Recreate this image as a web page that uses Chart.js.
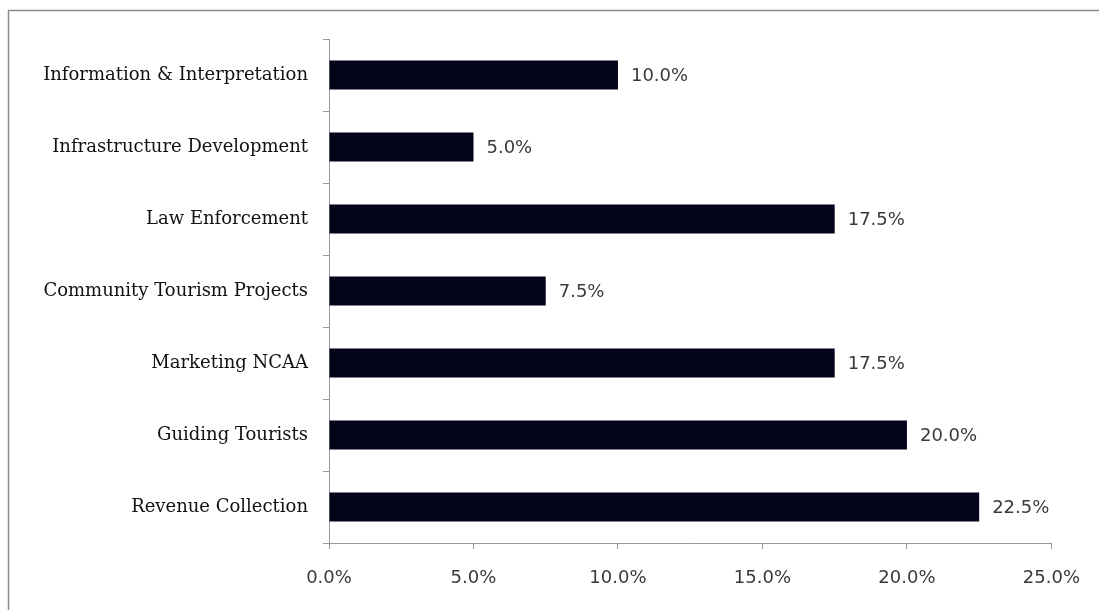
<!DOCTYPE html>
<html>
<head>
<meta charset="utf-8">
<script src="https://cdn.jsdelivr.net/npm/chart.js@4"></script>
<style>
  html, body { margin: 0; padding: 0; background: #fff; }
  #wrap { width: 1099px; height: 610px; position: relative; }
</style>
</head>
<body>
<div id="wrap"><canvas id="barChart"></canvas></div>
<script>
// data
const categories = [
  "Information & Interpretation",
  "Infrastructure Development",
  "Law Enforcement",
  "Community Tourism Projects",
  "Marketing NCAA",
  "Guiding Tourists",
  "Revenue Collection"
];
const shares = [10.0, 5.0, 17.5, 7.5, 17.5, 20.0, 22.5];
const xTicks = [0, 5, 10, 15, 20, 25];

const labelFont = { family: "'DejaVu Serif', serif", size: 18 };
const numFont = { family: "'DejaVu Sans', sans-serif", size: 18 };

// outer frame (only top + left edges visible in the original)
const framePlugin = {
  id: 'frame',
  beforeDraw(chart) {
    const c = chart.ctx;
    c.save();
    c.strokeStyle = '#8c8c8c';
    c.lineWidth = 1.5;
    c.beginPath();
    c.moveTo(8.5, chart.height);
    c.lineTo(8.5, 10.5);
    c.lineTo(chart.width, 10.5);
    c.stroke();
    c.restore();
  }
};

// value labels at the end of each bar
const valueLabels = {
  id: 'valueLabels',
  afterDatasetsDraw(chart) {
    const c = chart.ctx;
    const meta = chart.getDatasetMeta(0);
    c.save();
    c.font = numFont.size + 'px ' + numFont.family;
    c.fillStyle = '#3a3a3a';
    c.textAlign = 'left';
    c.textBaseline = 'middle';
    meta.data.forEach((bar, i) => {
      c.fillText(shares[i].toFixed(1) + '%', bar.x + 13, bar.y + 1);
    });
    c.restore();
  }
};

new Chart(document.getElementById('barChart'), {
  type: 'bar',
  data: {
    labels: categories,
    datasets: [{
      data: shares,
      backgroundColor: '#03031a',
      borderWidth: 0,
      barPercentage: 0.8,
      categoryPercentage: 0.5
    }]
  },
  options: {
    indexAxis: 'y',
    responsive: true,
    maintainAspectRatio: false,
    animation: false,
    layout: { padding: { top: 39, right: 47, bottom: 0, left: 0 } },
    plugins: {
      legend: { display: false },
      tooltip: { enabled: false }
    },
    scales: {
      x: {
        min: 0,
        max: 25,
        afterBuildTicks(axis) {
          axis.ticks = xTicks.map(v => ({ value: v }));
        },
        afterFit(axis) { axis.height = 67; },
        grid: {
          drawOnChartArea: false,
          tickLength: 6,
          color: '#999'
        },
        border: { color: '#999' },
        ticks: {
          padding: 19,
          color: '#3a3a3a',
          font: numFont,
          callback: v => v.toFixed(1) + '%'
        }
      },
      y: {
        afterFit(axis) { axis.width = 329; },
        grid: {
          offset: true,
          drawOnChartArea: false,
          tickLength: 6,
          color: '#999'
        },
        border: { color: '#999' },
        ticks: {
          padding: 15,
          color: '#111',
          font: labelFont
        }
      }
    }
  },
  plugins: [framePlugin, valueLabels]
});
</script>
</body>
</html>
